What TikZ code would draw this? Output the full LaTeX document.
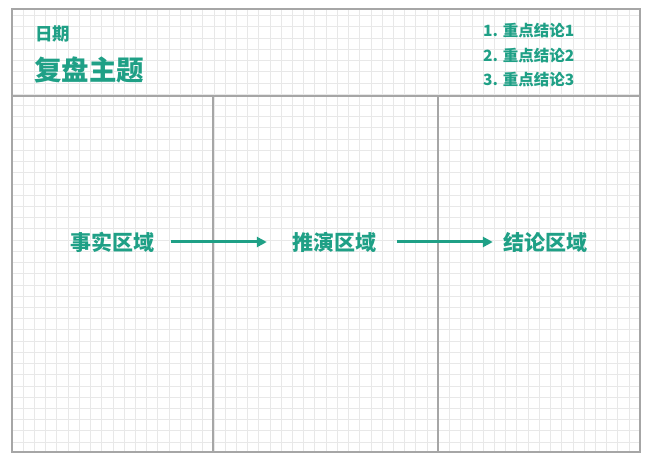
\documentclass[tikz,border=0pt]{standalone}
\usepackage{fontspec}
\newfontfamily\cjk{Noto Sans CJK SC}
\usetikzlibrary{arrows.meta}
\definecolor{teal1}{HTML}{1FA086}
\definecolor{framegray}{HTML}{A6A6A6}
\definecolor{gridgray}{HTML}{E8E8E8}
\tikzset{
  lbl/.style={inner sep=0pt, text=teal1, font=\cjk\bfseries},
  zone/.style={lbl, font=\cjk\bfseries\fontsize{21bp}{25bp}\selectfont},
  flow/.style={draw=teal1, line width=3bp, -{Triangle[length=10bp,width=10bp]}},
  frameline/.style={draw=framegray, line width=1.5bp},
  gridline/.style={draw=gridgray, line width=0.9bp}
}
\begin{document}
\begin{tikzpicture}[x=1bp,y=-1bp]
\useasboundingbox (0,0) rectangle (650,461);
\fill[white] (0,0) rectangle (650,461);
% grid
\begin{scope}
\clip (12,9) rectangle (640,452);
\foreach \i in {0,...,56} {
  \draw[gridline] ({12+11.22*\i},9) -- ({12+11.22*\i},452);
}
\foreach \j in {0,...,39} {
  \draw[gridline] (12,{15.7+11.22*\j}) -- (640,{15.7+11.22*\j});
}
\end{scope}
% frame
\draw[frameline] (12,9) rectangle (640,452);
\draw[frameline] (12,96) -- (640,96);
\draw[frameline] (213,96) -- (213,452);
\draw[frameline] (438,96) -- (438,452);
% header
\node[lbl, anchor=west, font=\cjk\bfseries\fontsize{17.5bp}{20bp}\selectfont] (date) at (35,34) {日期};
\node[lbl, anchor=west, font=\cjk\bfseries\fontsize{27.5bp}{31bp}\selectfont] (topic) at (34,70) {复盘主题};
\node[lbl, anchor=west, font=\cjk\bfseries\fontsize{15.5bp}{18bp}\selectfont] (c1) at (483,31) {1. 重点结论1};
\node[lbl, anchor=west, font=\cjk\bfseries\fontsize{15.5bp}{18bp}\selectfont] (c2) at (483,56) {2. 重点结论2};
\node[lbl, anchor=west, font=\cjk\bfseries\fontsize{15.5bp}{18bp}\selectfont] (c3) at (483,80) {3. 重点结论3};
% zones
\node[zone] (fact) at (112,242) {事实区域};
\node[zone] (deduce) at (334,242) {推演区域};
\node[zone] (concl) at (545,242) {结论区域};
\draw[flow, shorten <=17bp, shorten >=25bp] (fact.east) -- (deduce.west);
\draw[flow, shorten <=21bp, shorten >=10bp] (deduce.east) -- (concl.west);
\end{tikzpicture}
\end{document}
